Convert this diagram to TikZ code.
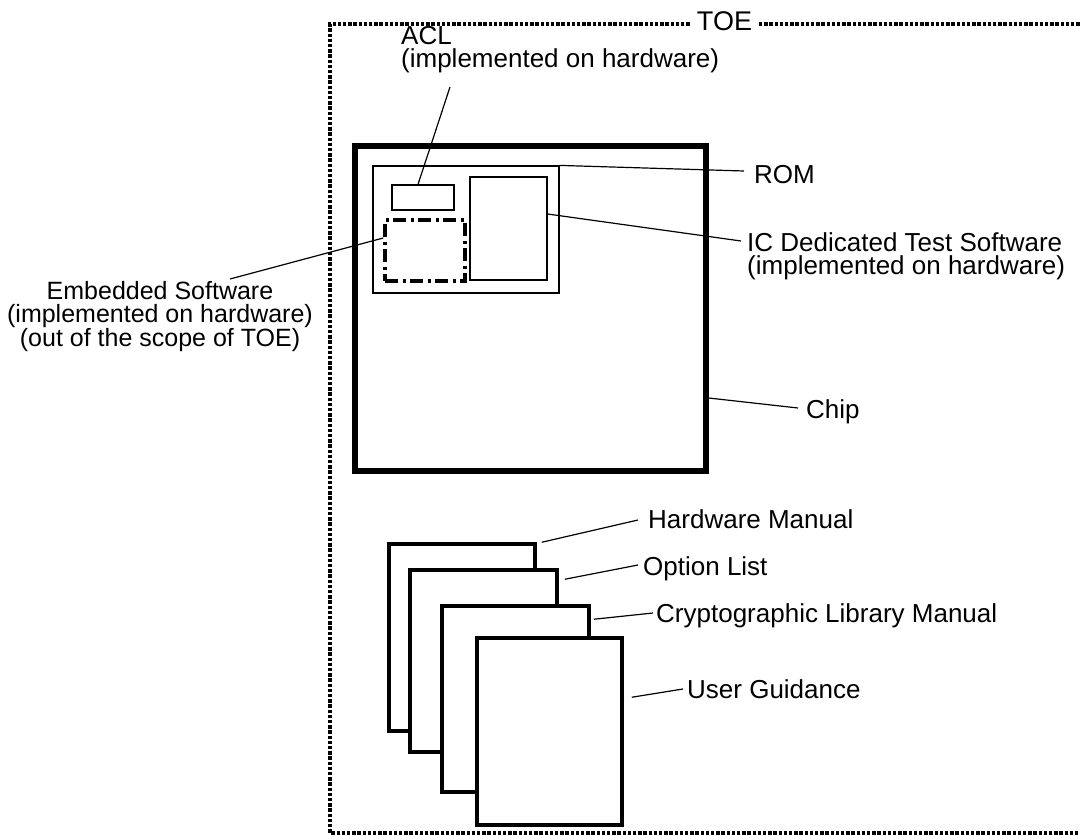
\documentclass[tikz,border=0pt]{standalone}
\usepackage{fontspec}
\setmainfont{Liberation Sans}
\usetikzlibrary{calc}
\begin{document}
\begin{tikzpicture}[x=1pt,y=-1pt,
  lbl/.style={font=\fontsize{26}{23.5}\selectfont, inner sep=0pt},
  leader/.style={line width=1.2pt},
  thinbox/.style={draw, line width=1.2pt, inner sep=0pt},
  chipbox/.style={draw, line width=5.5pt, inner sep=0pt},
  docbox/.style={draw, fill=white, line width=3.5pt, inner sep=0pt},
  embbox/.style={draw, line width=3.6pt, inner sep=0pt, dash pattern=on 13pt off 4.5pt on 3pt off 4.5pt},
  toebox/.style={line width=4pt, dash pattern=on 3.4pt off 1.8pt}]
\useasboundingbox (0,0) rectangle (1080,836);
\clip (0,0) rectangle (1080,836);

% TOE boundary
\draw[toebox] (1090,24) -- (330,24) -- (330,833) -- (1090,833);
\node[font=\fontsize{27}{27}\selectfont, fill=white, inner xsep=6pt, inner ysep=2pt] (toe) at (724.5,21.5) {TOE};

% chip and content
\node[chipbox, minimum width=351, minimum height=325] (chip) at (530.5,308.5) {};
\node[thinbox, minimum width=186, minimum height=127] (rom) at (466,229.5) {};
\node[thinbox, minimum width=62, minimum height=25] (acl) at (423,197.5) {};
\node[embbox, minimum width=80, minimum height=61] (emb) at (425,250.5) {};
\node[thinbox, minimum width=77, minimum height=103] (ic) at (508.5,228.5) {};

% documents
\node[docbox, minimum width=146, minimum height=187] (d1) at (462,637.5) {};
\node[docbox, minimum width=147, minimum height=182] (d2) at (483.5,661) {};
\node[docbox, minimum width=147, minimum height=186] (d3) at (515.5,699) {};
\node[docbox, minimum width=145, minimum height=187] (d4) at (549.5,731.5) {};

% labels
\node[lbl, anchor=north west, align=left] (acllbl) at (401,26) {ACL\\(implemented on hardware)};
\node[lbl, anchor=base west] (romlbl) at (754,183) {ROM};
\node[lbl, anchor=north west, align=left] (iclbl) at (747,232) {IC Dedicated Test Software\\(implemented on hardware)};
\node[lbl, font=\fontsize{25}{23}\selectfont, anchor=north, align=center] (emblbl) at (160,281) {Embedded Software\\(implemented on hardware)\\(out of the scope of TOE)};
\node[lbl, anchor=base west] (chiplbl) at (806,418) {Chip};
\node[lbl, anchor=base west] (hwlbl) at (648,528) {Hardware Manual};
\node[lbl, anchor=base west] (optlbl) at (643,575) {Option List};
\node[lbl, anchor=base west] (cryptlbl) at (656,622) {Cryptographic Library Manual};
\node[lbl, anchor=base west] (userlbl) at (687,698) {User Guidance};

% leader ends
\coordinate (aclE) at (450,87);
\coordinate (romE) at (744,171);
\coordinate (icE) at (741,241);
\coordinate (embE) at (230,279);
\coordinate (chipE) at (798,408);
\coordinate (hwE) at (638,520);
\coordinate (optE) at (638,565);
\coordinate (cryptE) at (653,613);
\coordinate (userE) at (683,689);

% leaders
\draw[leader] ($(acl.north)+(-5,0)$) -- (aclE);
\draw[leader] (rom.north east) -- (romE);
\draw[leader] ($(ic.east)+(0,-14.5)$) -- (icE);
\draw[leader] ($(emb.west)+(0,-12.5)$) -- (embE);
\draw[leader] ($(chip.east)+(0,89.5)$) -- (chipE);
\draw[leader] ($(d1.north east)+(5,0)$) -- (hwE);
\draw[leader] ($(d2.north east)+(6,11)$) -- (optE);
\draw[leader] ($(d3.north east)+(3,15)$) -- (cryptE);
\draw[leader] ($(d4.north east)+(8,61)$) -- (userE);
\end{tikzpicture}
\end{document}
